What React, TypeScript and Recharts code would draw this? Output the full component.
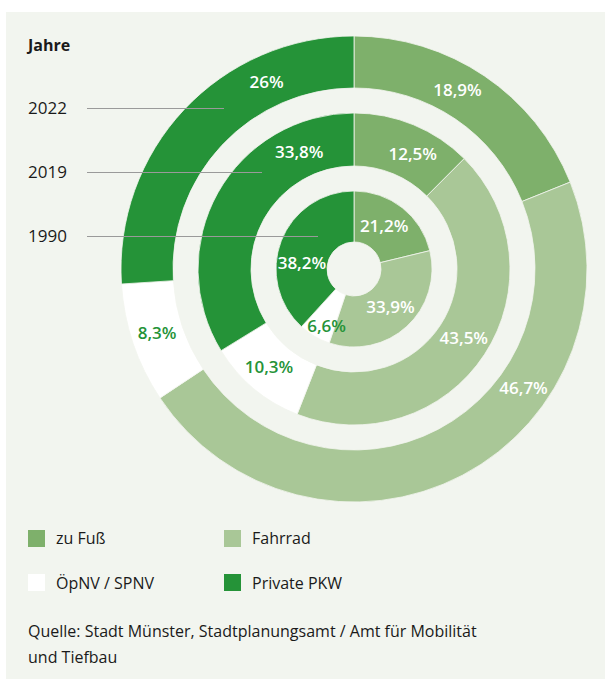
import React from 'react';
import { PieChart, Pie, Cell } from 'recharts';

// modes, clockwise from 12 o'clock
const modes = ['zu Fuß', 'Fahrrad', 'ÖpNV / SPNV', 'Private PKW'];
const years = ['2022', '2019', '1990'];

const share2022 = [18.9, 46.7, 8.3, 26];
const share2019 = [12.5, 43.5, 10.3, 33.8];
const share1990 = [21.2, 33.9, 6.6, 38.2];

// where the percentage labels sit (degrees clockwise from top)
const labelAngle2022 = [30, 125, 252, 335];
const labelAngle2019 = [27, 122, 221, 335];
const labelAngle1990 = [35, 136, 206, 277];
const labelShift1990 = [0, 0, 10, 0];

const colors = ['#7eb06b', '#a9c797', '#ffffff', '#259338'];
const bg = '#f2f5ef';
const font = '"Open Sans", "Noto Sans", sans-serif';

const toRows = (vals: number[]) => vals.map((v, i) => ({ name: modes[i], value: v }));

const fmt = (v: number) => String(v).replace('.', ',') + '%';

const makeLabel = (angles: number[], shift: number[] = [0, 0, 0, 0]) => (props: any) => {
    const { cx, cy, innerRadius, outerRadius, index, value } = props;
    const r = (innerRadius + outerRadius) / 2 + shift[index];
    const a = (angles[index] * Math.PI) / 180;
    const x = cx + r * Math.sin(a);
    const y = cy - r * Math.cos(a);
    return (
        <text
            x={x}
            y={y}
            textAnchor="middle"
            dominantBaseline="central"
            fill={index === 2 ? '#259338' : '#ffffff'}
            fontFamily={font}
            fontSize={17}
            fontWeight={600}
        >
            {fmt(value)}
        </text>
    );
};

const rings = [
    { data: share2022, angles: labelAngle2022, shift: undefined, inner: 181, outer: 233 },
    { data: share2019, angles: labelAngle2019, shift: undefined, inner: 103, outer: 156 },
    { data: share1990, angles: labelAngle1990, shift: labelShift1990, inner: 27, outer: 78 },
];

const yearY = [108, 172, 236];
const yearLineEnd = [224, 262, 318];

export default function App() {
    return (
        <div style={{ position: 'absolute', left: 0, top: 0, width: 605, height: 679, background: '#ffffff', fontFamily: font }}>
            <div style={{ position: 'absolute', left: 6, top: 12, width: 599, height: 667, background: bg }} />
            <div style={{ position: 'absolute', left: 0, top: 0 }}>
                <PieChart width={605} height={679} margin={{ top: 0, right: 0, bottom: 0, left: 0 }}>
                    {rings.map((ring, k) => (
                        <Pie
                            key={years[k]}
                            data={toRows(ring.data)}
                            dataKey="value"
                            cx={354}
                            cy={269}
                            innerRadius={ring.inner}
                            outerRadius={ring.outer}
                            startAngle={90}
                            endAngle={-270}
                            stroke={bg}
                            strokeWidth={0.8}
                            label={makeLabel(ring.angles, ring.shift)}
                            labelLine={false}
                            isAnimationActive={false}
                        >
                            {ring.data.map((_, i) => (
                                <Cell key={i} fill={colors[i]} />
                            ))}
                        </Pie>
                    ))}
                </PieChart>
            </div>

            <div style={{ position: 'absolute', left: 28, top: 33, fontSize: 16, fontWeight: 700, color: '#1a1a1a', lineHeight: '24px' }}>
                Jahre
            </div>
            {years.map((y, i) => (
                <React.Fragment key={y}>
                    <div style={{ position: 'absolute', left: 28, top: yearY[i] - 12, fontSize: 17, color: '#1a1a1a', lineHeight: '24px' }}>{y}</div>
                    <div style={{ position: 'absolute', left: 87, top: yearY[i], width: yearLineEnd[i] - 87, height: 1, background: '#9a9a9a' }} />
                </React.Fragment>
            ))}

            {modes.map((m, i) => (
                <React.Fragment key={m}>
                    <div
                        style={{
                            position: 'absolute',
                            left: i % 2 === 0 ? 28 : 224,
                            top: i < 2 ? 530 : 574,
                            width: 17,
                            height: 17,
                            background: colors[i],
                        }}
                    />
                    <div
                        style={{
                            position: 'absolute',
                            left: i % 2 === 0 ? 56 : 252,
                            top: (i < 2 ? 538 : 583) - 12,
                            fontSize: 16,
                            color: '#1a1a1a',
                            lineHeight: '24px',
                            whiteSpace: 'nowrap',
                        }}
                    >
                        {m === 'ÖpNV / SPNV' ? 'ÖpNV / SPNV' : m}
                    </div>
                </React.Fragment>
            ))}

            <div style={{ position: 'absolute', left: 28, top: 618, width: 560, fontSize: 16, color: '#1a1a1a', lineHeight: '26px' }}>
                Quelle: Stadt Münster, Stadtplanungsamt / Amt für Mobilität
                <br />
                und Tiefbau
            </div>
        </div>
    );
}
